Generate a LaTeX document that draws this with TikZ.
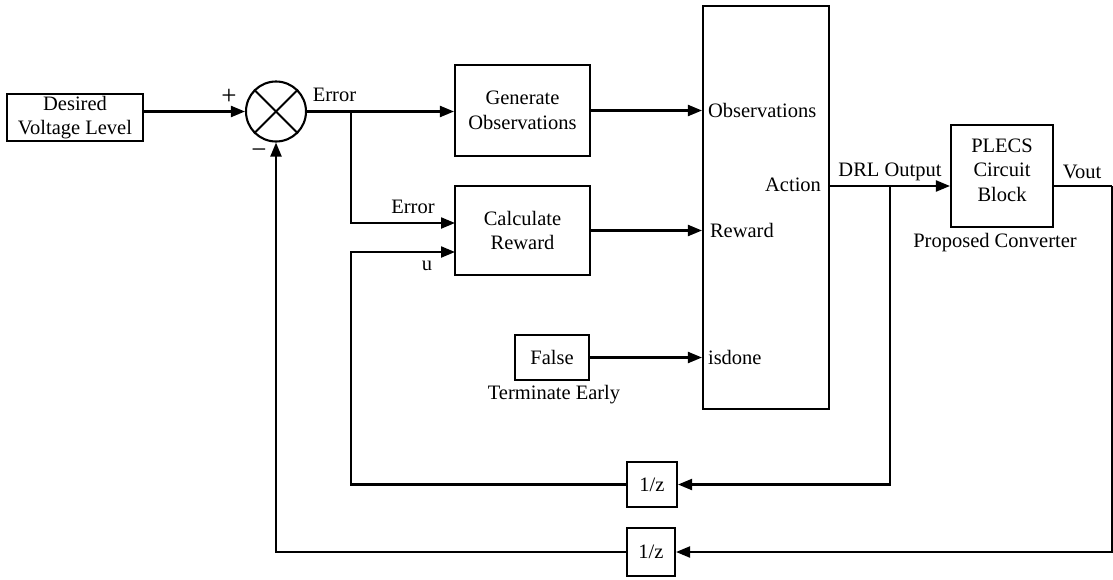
\documentclass[tikz,border=0pt]{standalone}
\usepackage{fontspec}
\setmainfont{Liberation Serif}
\usetikzlibrary{arrows.meta}
\begin{document}
\begin{tikzpicture}[x=1pt,y=-1pt,
  line width=2.1pt,
  every node/.style={font=\fontsize{20.5}{24.5}\selectfont},
  blk/.style={draw, rectangle, inner sep=0pt, align=center},
  lbl/.style={inner sep=0pt, align=center},
  sign/.style={inner sep=0pt, font=\fontsize{27}{27}\selectfont},
  arr/.style={-{Triangle[length=14pt,width=11pt]}}]
\useasboundingbox (0,0) rectangle (1113,579);

% blocks
\node[blk, minimum width=136, minimum height=47] (des) at (75,117.5) {Desired\\Voltage Level};
\node[draw, circle, minimum size=60, inner sep=0pt] (sum) at (276,111.5) {};
\draw (sum.north west) -- (sum.south east);
\draw (sum.north east) -- (sum.south west);
\node[blk, minimum width=135, minimum height=91] (gen) at (522.5,110.5) {Generate\\Observations};
\node[blk, minimum width=135, minimum height=89] (calc) at (522.5,230.5) {Calculate\\Reward};
\node[blk, minimum width=74, minimum height=45] (fls) at (552,357.5) {False};
\node[blk, minimum width=126, minimum height=403] (agent) at (766,207.5) {};
\node[blk, minimum width=102, minimum height=102] (plecs) at (1002,176) {};
\node[lbl] (plecsT) at (1002,170) {PLECS\\Circuit\\Block};
\node[blk, minimum width=50, minimum height=45] (d1) at (652,484.5) {1/z};
\node[blk, minimum width=48, minimum height=48] (d2) at (651,552) {1/z};

% junctions and ports
\coordinate (b1) at (351,111.5);
\coordinate (calcE) at (455,223);
\coordinate (calcU) at (455,252);
\coordinate (act) at (829,186);
\coordinate (b2) at (890,186);
\coordinate (vr) at (1112,186);

% signal lines
\draw[arr] (des.east |- sum.west) -- (sum.west);
\draw[arr] (sum.east) -- (gen.west |- sum.east);
\draw[arr] (b1) |- (calcE);
\draw[arr] (gen.east) -- (gen.east -| agent.west);
\draw[arr] (calc.east) -- (calc.east -| agent.west);
\draw[arr] (fls.east) -- (fls.east -| agent.west);
\draw[arr] (act) -- (act -| plecs.west);
\draw (plecs.east |- act) -- (vr);
\draw[arr] (vr) |- (d2.east);
\draw[arr] (b2) |- (d1.east);
\draw[arr] (d1.west) -| (351,300) |- (calcU);
\draw[arr] (d2.west) -| (sum.south);

% labels
\node[sign] at (229,97) {+};
\node[sign] at (259,154) {−};
\node[lbl] at (334.5,95) {Error};
\node[lbl] at (413,207) {Error};
\node[lbl] at (427,266) {u};
\node[lbl, anchor=west] at (707,110) {Observations};
\node[lbl, anchor=west] at (709,230) {Reward};
\node[lbl, anchor=west] at (707,357) {isdone};
\node[lbl, anchor=east] at (822,185) {Action};
\node[lbl] at (890,172) {DRL Output};
\node[lbl] at (1082,172) {Vout};
\node[lbl] at (995,243) {Proposed Converter};
\node[lbl] at (554,395) {Terminate Early};
\end{tikzpicture}
\end{document}
